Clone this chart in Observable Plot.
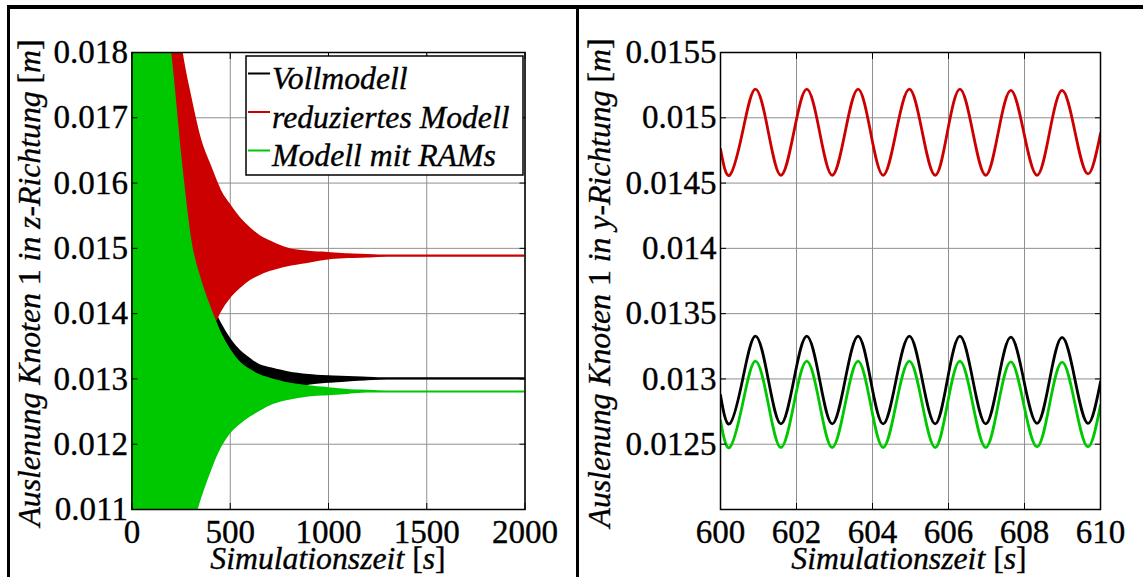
<!DOCTYPE html>
<html><head><meta charset="utf-8">
<script src="https://cdn.jsdelivr.net/npm/d3@7"></script>
<script src="https://cdn.jsdelivr.net/npm/@observablehq/plot@0.6"></script>
<style>
html,body{margin:0;padding:0;background:#fff;}
#wrap{position:relative;width:1143px;height:577px;overflow:hidden;background:#fff;}
#left,#right{position:absolute;top:0;height:577px;}
#left{left:0;width:577px;}
#right{left:577px;width:566px;}
.bar{position:absolute;background:#000;}
</style></head><body>
<div id="wrap">
  <div id="left"></div><div id="right"></div>
  <div class="bar" style="left:7px;top:5px;width:1136px;height:4px"></div>
  <div class="bar" style="left:7px;top:5px;width:3px;height:572px"></div>
  <div class="bar" style="left:576px;top:5px;width:3px;height:572px"></div>
</div>
<script>
// ---------- data ----------
const seriesNames = ["Vollmodell", "reduziertes Modell", "Modell mit RAMs"];
const seriesColors = ["#000000", "#cc0000", "#00c800"];

// left panel: envelope of the fast oscillation (z-direction)
const tLeft      = [0, 100, 200, 250, 300, 350, 400, 425, 450, 500, 550, 600, 650, 700, 800, 900, 1000, 1100, 1200, 1300, 1400, 1600, 2000];
const blackUpper = [0.0200, 0.0190, 0.0170, 0.0160, 0.0152, 0.0146, 0.0142, 0.0140, 0.01385, 0.0136, 0.01342, 0.0133, 0.0132, 0.01316, 0.01309, 0.01305, 0.01303, 0.01302, 0.01301, 0.0130, 0.0130, 0.0130, 0.0130];
const blackLower = [0.0080, 0.0090, 0.0100, 0.0105, 0.0110, 0.0115, 0.0119, 0.0121, 0.0122, 0.0124, 0.0125, 0.01262, 0.0127, 0.01276, 0.01287, 0.01292, 0.01295, 0.01297, 0.01299, 0.0130, 0.0130, 0.0130, 0.0130];
const redUpper   = [0.0260, 0.0230, 0.0195, 0.0181, 0.0173, 0.01665, 0.01625, 0.01606, 0.01588, 0.01565, 0.01545, 0.0153, 0.01518, 0.0151, 0.01498, 0.01494, 0.01492, 0.0149, 0.01489, 0.01488, 0.01488, 0.01488, 0.01488];
const redLower   = [0.0120, 0.0125, 0.0130, 0.0133, 0.0135, 0.0137, 0.01382, 0.01388, 0.01403, 0.01425, 0.0144, 0.01452, 0.0146, 0.01466, 0.01474, 0.01479, 0.01484, 0.01486, 0.01487, 0.01488, 0.01488, 0.01488, 0.01488];
const greenUpper = [0.0215, 0.0198, 0.0179, 0.01635, 0.0151, 0.0145, 0.01407, 0.01388, 0.0137, 0.01343, 0.01324, 0.01313, 0.01305, 0.0130, 0.01292, 0.01288, 0.01285, 0.01282, 0.01281, 0.0128, 0.0128, 0.0128, 0.0128];
const greenLower = [0.0075, 0.0087, 0.0097, 0.0102, 0.01068, 0.01118, 0.0116, 0.01179, 0.01195, 0.01218, 0.01232, 0.01243, 0.01252, 0.0126, 0.01269, 0.01274, 0.01276, 0.01278, 0.0128, 0.0128, 0.0128, 0.0128, 0.0128];
const leftXTicks = [0, 500, 1000, 1500, 2000];
const leftYTicks = [0.011, 0.012, 0.013, 0.014, 0.015, 0.016, 0.017, 0.018];

// right panel: zoom 600..610 s (y-direction)
const tRight     = [600.0, 600.24, 600.58, 600.92, 601.26, 601.59, 601.93, 602.27, 602.61, 602.94, 603.28, 603.62, 603.95, 604.28, 604.62, 604.97, 605.31, 605.65, 605.97, 606.30, 606.64, 606.98, 607.31, 607.64, 607.98, 608.33, 608.66, 608.99, 609.33, 609.67, 610.0];
const blackRight = [0.012875, 0.012656, 0.012992, 0.013328, 0.012992, 0.012656, 0.012992, 0.013328, 0.012992, 0.012656, 0.012992, 0.013328, 0.012992, 0.012656, 0.012992, 0.013328, 0.012992, 0.012656, 0.012992, 0.013328, 0.012992, 0.012656, 0.012992, 0.013320, 0.012992, 0.012660, 0.012992, 0.013318, 0.012992, 0.012660, 0.012977];
const redRight   = [0.01476, 0.01456, 0.01489, 0.01522, 0.01489, 0.01456, 0.01489, 0.01522, 0.01489, 0.01456, 0.01489, 0.01522, 0.01489, 0.01456, 0.01489, 0.01522, 0.01489, 0.01456, 0.01489, 0.01522, 0.01489, 0.01456, 0.01489, 0.01521, 0.01489, 0.01456, 0.01489, 0.01521, 0.01489, 0.01457, 0.01488];
const greenRight = [0.012682, 0.012475, 0.012806, 0.013136, 0.012806, 0.012475, 0.012806, 0.013136, 0.012806, 0.012475, 0.012806, 0.013136, 0.012806, 0.012475, 0.012806, 0.013136, 0.012806, 0.012475, 0.012806, 0.013136, 0.012806, 0.012475, 0.012806, 0.013130, 0.012806, 0.012480, 0.012806, 0.013128, 0.012806, 0.012480, 0.012798];
const rightXTicks = [600, 602, 604, 606, 608, 610];
const rightYTicks = [0.0125, 0.013, 0.0135, 0.014, 0.0145, 0.015, 0.0155];
const rightYGrid  = [0.012, 0.0125, 0.013, 0.0135, 0.014, 0.0145, 0.015, 0.0155];

const xTitleParts = [["Simulationszeit ", true], ["[", false], ["s", true], ["]", false]];
const yTitleLeftParts = [["Auslenung Knoten ", true], ["1", false], [" in z-Richtung ", true], ["[", false], ["m", true], ["]", false]];
const yTitleRightParts = [["Auslenung Knoten ", true], ["1", false], [" in y-Richtung ", true], ["[", false], ["m", true], ["]", false]];

// ---------- style ----------
const FONT = "'Liberation Serif', Tinos, 'Times New Roman', serif";
const ctx = document.createElement("canvas").getContext("2d");
function textW(s, italic) { ctx.font = (italic ? "italic " : "") + "100px " + FONT; return ctx.measureText(s).width / 100; }
// size fonts so that label widths match the reference picture
const TICK_FS = Math.min(34, 91 / textW("0.0155", false));
const TITLE_FS = Math.min(33, 0.97 * 245 / textW("reduziertes Modell", true));
const TEXT_STROKE = 0.35;   // slightly heavier glyphs, like the original

const gridStyle = {stroke: "#8f8f8f", strokeOpacity: 1, strokeWidth: 1};
const fmt = d => String(d);

function axes(xt, yt) {
  return [
    Plot.axisX(xt, {anchor: "bottom", tickSize: -6, tickPadding: 15.5, tickFormat: fmt, stroke: "black"}),
    Plot.axisX(xt, {anchor: "top", tickSize: -6, tickFormat: () => "", stroke: "black"}),
    Plot.axisY(yt, {anchor: "left", tickSize: -6, tickPadding: 10, tickFormat: fmt, stroke: "black"}),
    Plot.axisY(yt, {anchor: "right", tickSize: -6, tickFormat: () => "", stroke: "black"})
  ];
}

const band = (lo, hi, color) => Plot.areaY(tLeft, {
  x: tLeft, y1: lo, y2: hi, fill: color, stroke: color, strokeWidth: 2.2,
  curve: "monotone-x", clip: true
});

const plotStyle = {fontFamily: FONT, fontSize: TICK_FS + "px", background: "none", color: "black"};

const leftSvg = Plot.plot({
  width: 577, height: 577,
  marginLeft: 131.5, marginRight: 52.5, marginTop: 52, marginBottom: 68,
  style: plotStyle,
  x: {domain: [0, 2000], label: null},
  y: {domain: [0.011, 0.018], label: null},
  marks: [
    Plot.gridX(leftXTicks, gridStyle),
    Plot.gridY(leftYTicks, gridStyle),
    band(blackLower, blackUpper, seriesColors[0]),
    band(redLower, redUpper, seriesColors[1]),
    band(greenLower, greenUpper, seriesColors[2]),
    Plot.frame({stroke: "black", strokeWidth: 1.5}),
    ...axes(leftXTicks, leftYTicks)
  ]
});
document.getElementById("left").appendChild(leftSvg);

const rightSvg = Plot.plot({
  width: 566, height: 577,
  marginLeft: 143, marginRight: 43, marginTop: 52, marginBottom: 68,
  style: plotStyle,
  x: {domain: [600, 610], label: null},
  y: {domain: [0.012, 0.0155], label: null},
  marks: [
    Plot.gridX(rightXTicks, gridStyle),
    Plot.gridY(rightYGrid, gridStyle),
    Plot.line(tRight, {x: tRight, y: blackRight, stroke: seriesColors[0], strokeWidth: 2.8, curve: "natural", clip: true}),
    Plot.line(tRight, {x: tRight, y: redRight, stroke: seriesColors[1], strokeWidth: 2.8, curve: "natural", clip: true}),
    Plot.line(tRight, {x: tRight, y: greenRight, stroke: seriesColors[2], strokeWidth: 2.8, curve: "natural", clip: true}),
    Plot.frame({stroke: "black", strokeWidth: 1.5}),
    ...axes(rightXTicks, rightYTicks)
  ]
});
document.getElementById("right").appendChild(rightSvg);

// make sure every Plot text uses the serif family
d3.selectAll("#wrap svg text")
  .attr("font-family", FONT)
  .style("font-family", FONT).style("font-size", TICK_FS + "px")
  .style("stroke", "black").style("stroke-width", TEXT_STROKE + "px");

// ---------- titles ----------
function addText(svg, transform, parts, anchor) {
  const t = d3.select(svg).append("text")
    .attr("transform", transform)
    .attr("text-anchor", anchor)
    .attr("fill", "black")
    .attr("font-family", FONT)
    .style("font-family", FONT).style("font-size", TITLE_FS + "px")
    .style("stroke", "black").style("stroke-width", TEXT_STROKE + "px")
    .style("white-space", "pre");
  parts.forEach(p => t.append("tspan").text(p[0]).style("font-style", p[1] ? "italic" : "normal"));
  return t;
}
addText(leftSvg, "translate(40,283) rotate(-90)", yTitleLeftParts, "middle");
addText(rightSvg, "translate(33,283) rotate(-90)", yTitleRightParts, "middle");
addText(leftSvg, "translate(328,569)", xTitleParts, "middle");
addText(rightSvg, "translate(332,569)", xTitleParts, "middle");

// ---------- legend ----------
const lg = d3.select(leftSvg).append("g");
lg.append("rect").attr("x", 246).attr("y", 56).attr("width", 277).attr("height", 119)
  .attr("fill", "white").attr("stroke", "black").attr("stroke-width", 1.5);
seriesNames.forEach((name, i) => {
  const ly = 73.5 + i * 38.5, by = 89 + i * 38.5;
  lg.append("line").attr("x1", 248).attr("x2", 270).attr("y1", ly).attr("y2", ly)
    .attr("stroke", seriesColors[i]).attr("stroke-width", 2);
  lg.append("text").attr("x", 272).attr("y", by).attr("text-anchor", "start").text(name)
    .attr("fill", "black").attr("font-family", FONT)
    .style("font-family", FONT).style("font-size", TITLE_FS + "px").style("font-style", "italic")
    .style("stroke", "black").style("stroke-width", TEXT_STROKE + "px");
});
</script>
</body></html>
